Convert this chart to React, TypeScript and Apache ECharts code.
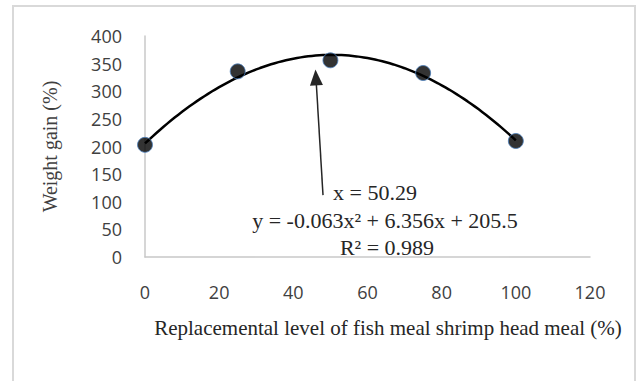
import React, { useEffect, useRef } from "react";
import * as echarts from "echarts";

// Replacement levels (%) and measured weight gain (%)
const levels = [0, 25, 50, 75, 100];
const weightGain = [203, 336, 356, 333, 210];

// Quadratic trendline: y = a·x² + b·x + c
const trendA = -0.063;
const trendB = 6.356;
const trendC = 205.5;
const trendXs = Array.from({ length: 101 }, (_, i) => i);

// Arrow annotation pointing at the optimum (x = 50.29)
const arrowTail = [48.0, 112];
const arrowTip = [46.1, 325];

const xTicks = { min: 0, max: 120, interval: 20 };
const yTicks = { min: 0, max: 400, interval: 50 };

const equationLines = ["x = 50.29", "y = -0.063x² + 6.356x + 205.5", "R² = 0.989"];

const SERIF = "'Liberation Serif', 'Times New Roman', serif";
const SANS = "'Open Sans', 'DejaVu Sans', sans-serif";

export default function App() {
  const ref = useRef<HTMLDivElement>(null);

  useEffect(() => {
    if (!ref.current) return;
    const chart = echarts.init(ref.current, undefined, { renderer: "svg" });

    const trend = trendXs.map((x) => [x, trendA * x * x + trendB * x + trendC]);
    const points = levels.map((x, i) => [x, weightGain[i]]);

    chart.setOption({
      animation: false,
      backgroundColor: "#ffffff",
      grid: { left: 145, top: 36, right: 51, bottom: 124 },
      xAxis: {
        type: "value",
        min: xTicks.min,
        max: xTicks.max,
        interval: xTicks.interval,
        axisLine: { show: true, lineStyle: { color: "#c8c8c8", width: 1.5 } },
        axisTick: { show: false },
        splitLine: { show: false },
        axisLabel: { margin: 26, color: "#404040", fontFamily: SANS, fontSize: 18 },
      },
      yAxis: {
        type: "value",
        min: yTicks.min,
        max: yTicks.max,
        interval: yTicks.interval,
        name: "Weight gain (%)",
        nameLocation: "middle",
        nameGap: 85,
        nameRotate: 90,
        nameTextStyle: { color: "#404040", fontFamily: SERIF, fontSize: 20 },
        axisLine: { show: true, lineStyle: { color: "#c8c8c8", width: 1.5 } },
        axisTick: { show: false },
        splitLine: { show: false },
        axisLabel: { margin: 23, color: "#404040", fontFamily: SANS, fontSize: 18 },
      },
      series: [
        {
          type: "line",
          data: trend,
          showSymbol: false,
          silent: true,
          lineStyle: { color: "#000000", width: 2.5 },
          z: 2,
        },
        {
          type: "scatter",
          data: points,
          symbol: "circle",
          symbolSize: 15,
          itemStyle: { color: "#000000", borderColor: "#4a7ebb", borderWidth: 1 },
          z: 3,
          markLine: {
            silent: true,
            symbol: ["none", "triangle"],
            symbolSize: [13, 16],
            label: { show: false },
            lineStyle: { color: "#262626", width: 1.5, type: "solid" },
            data: [[{ coord: arrowTail }, { coord: arrowTip }]],
          },
        },
      ],
      graphic: [
        {
          type: "rect",
          shape: { x: 13, y: 6, width: 622, height: 420 },
          style: { fill: "none", stroke: "#d9d9d9", lineWidth: 2 },
          silent: true,
        },
        {
          type: "text",
          x: 375,
          y: 192,
          style: {
            text: equationLines[0],
            fontFamily: SERIF,
            fontSize: 22,
            fill: "#262626",
            align: "center",
            verticalAlign: "middle",
          },
        },
        {
          type: "text",
          x: 385,
          y: 220,
          style: {
            text: equationLines[1],
            fontFamily: SERIF,
            fontSize: 22,
            fill: "#262626",
            align: "center",
            verticalAlign: "middle",
          },
        },
        {
          type: "text",
          x: 387,
          y: 247,
          style: {
            text: equationLines[2],
            fontFamily: SERIF,
            fontSize: 22,
            fill: "#262626",
            align: "center",
            verticalAlign: "middle",
          },
        },
        {
          type: "text",
          x: 388,
          y: 328,
          style: {
            text: "Replacemental level of fish meal shrimp head meal (%)",
            fontFamily: SERIF,
            fontSize: 21,
            fill: "#262626",
            align: "center",
            verticalAlign: "middle",
          },
        },
      ],
    });

    return () => chart.dispose();
  }, []);

  return (
    <div
      ref={ref}
      style={{ position: "fixed", left: 0, top: 0, width: 641, height: 381 }}
    />
  );
}
